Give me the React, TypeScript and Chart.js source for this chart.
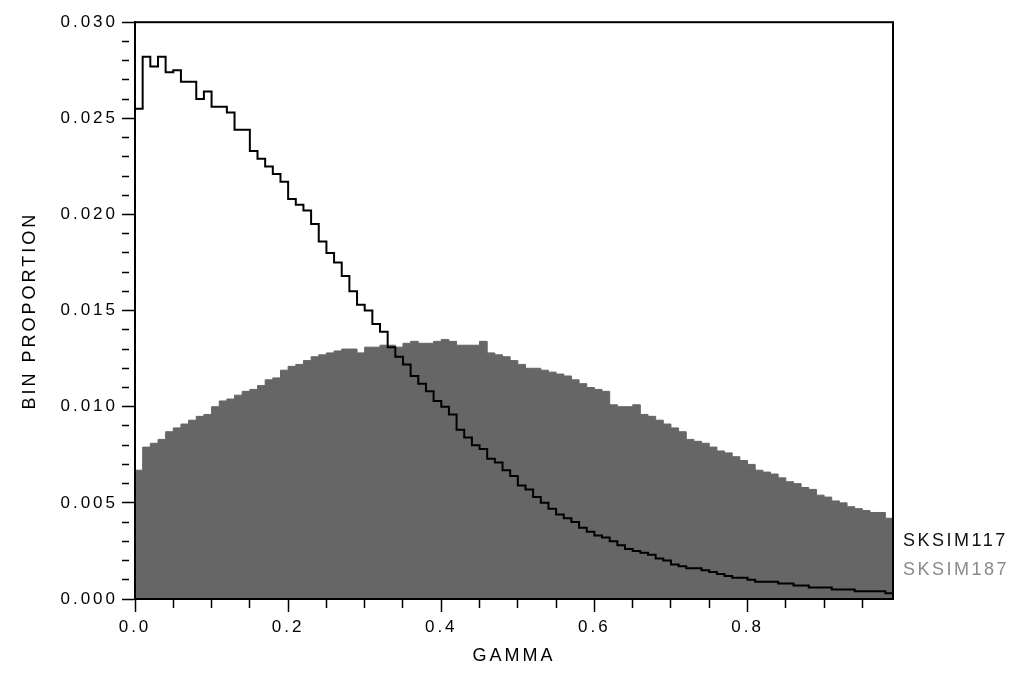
import React, { useEffect, useRef } from "react";
import { Chart, registerables } from "chart.js";

Chart.register(...registerables);

// ---------------- data ----------------
const BIN_WIDTH = 0.01;
const X_MIN = 0;
const X_MAX = 0.99;
const Y_MIN = 0;
const Y_MAX = 0.03;
const X_TITLE = "GAMMA";
const Y_TITLE = "BIN PROPORTION";
const SERIES_NAMES = ["SKSIM117", "SKSIM187"];

const SKSIM117 = [
  0.0255, 0.0282, 0.0277, 0.0282, 0.0274, 0.0275, 0.0269, 0.0269, 0.026, 0.0264,
  0.0256, 0.0256, 0.0253, 0.0244, 0.0244, 0.0233, 0.0229, 0.0225, 0.0221, 0.0217,
  0.0208, 0.0205, 0.0202, 0.0195, 0.0186, 0.018, 0.0175, 0.0168, 0.016, 0.0153,
  0.015, 0.0143, 0.0139, 0.0131, 0.0126, 0.0122, 0.0116, 0.0112, 0.0108, 0.0103,
  0.01, 0.0096, 0.0088, 0.0084, 0.008, 0.0078, 0.0073, 0.0071, 0.0067, 0.0064,
  0.0059, 0.0057, 0.0053, 0.005, 0.0047, 0.0044, 0.0042, 0.004, 0.0037, 0.0035,
  0.0033, 0.0032, 0.003, 0.0028, 0.0026, 0.0025, 0.0024, 0.0023, 0.0021, 0.002,
  0.0018, 0.0017, 0.0016, 0.0016, 0.0015, 0.0014, 0.0013, 0.0012, 0.0011, 0.0011,
  0.001, 0.0009, 0.0009, 0.0009, 0.0008, 0.0008, 0.0007, 0.0007, 0.0006, 0.0006,
  0.0006, 0.0005, 0.0005, 0.0005, 0.0004, 0.0004, 0.0004, 0.0004, 0.0003,
];

const SKSIM187 = [
  0.0067, 0.0079, 0.0081, 0.0083, 0.0087, 0.0089, 0.0091, 0.0093, 0.0095, 0.0096,
  0.01, 0.0103, 0.0104, 0.0106, 0.0108, 0.0109, 0.0111, 0.0114, 0.0115, 0.0119,
  0.0121, 0.0122, 0.0124, 0.0126, 0.0127, 0.0128, 0.0129, 0.013, 0.013, 0.0128,
  0.0131, 0.0131, 0.0132, 0.0132, 0.0131, 0.0133, 0.0134, 0.0133, 0.0133, 0.0134,
  0.0135, 0.0134, 0.0132, 0.0132, 0.0132, 0.0134, 0.0128, 0.0127, 0.0126, 0.0124,
  0.0122, 0.012, 0.012, 0.0119, 0.0118, 0.0117, 0.0116, 0.0114, 0.0112, 0.011,
  0.0109, 0.0108, 0.0101, 0.01, 0.01, 0.0101, 0.0096, 0.0095, 0.0093, 0.0091,
  0.0089, 0.0087, 0.0083, 0.0082, 0.0081, 0.0079, 0.0077, 0.0076, 0.0074, 0.0072,
  0.007, 0.0067, 0.0066, 0.0065, 0.0063, 0.0061, 0.006, 0.0058, 0.0057, 0.0054,
  0.0053, 0.0051, 0.005, 0.0048, 0.0047, 0.0046, 0.0045, 0.0045, 0.0042,
];

// ---------------- helpers ----------------
const FONT = "'Liberation Sans', Arial, Helvetica, sans-serif";

function toSteps(values: number[]) {
  const pts = values.map((v, i) => ({ x: +(i * BIN_WIDTH).toFixed(4), y: v }));
  pts.push({ x: +(values.length * BIN_WIDTH).toFixed(4), y: values[values.length - 1] });
  return pts;
}

const isMajorY = (v: number) => Math.round(v * 1000) % 5 === 0;
const isMajorX = (v: number) => Math.round(v * 100) % 20 === 0;

const framePlugin = {
  id: "frame",
  beforeDraw(chart: any) {
    (chart.ctx as any).letterSpacing = "3px";
  },
  afterDatasetsDraw(chart: any) {
    const { ctx, chartArea: a } = chart;
    ctx.save();
    ctx.strokeStyle = "#000";
    ctx.lineWidth = 2;
    ctx.strokeRect(a.left, a.top, a.right - a.left, a.bottom - a.top);
    ctx.restore();
  },
  afterDraw(chart: any) {
    const { ctx, chartArea: a } = chart;
    ctx.save();
    (ctx as any).letterSpacing = "2.5px";
    ctx.font = `18px ${FONT}`;
    ctx.textAlign = "left";
    ctx.textBaseline = "middle";
    const offsets = [58, 29];
    chart.data.datasets.forEach((ds: any, i: number) => {
      ctx.fillStyle = ds.legendColor;
      ctx.fillText(ds.label, a.right + 10, a.bottom - offsets[i]);
    });
    ctx.restore();
  },
};

export default function App() {
  const ref = useRef<HTMLCanvasElement | null>(null);

  useEffect(() => {
    if (!ref.current) return;
    const chart = new Chart(ref.current, {
      type: "line",
      data: {
        datasets: [
          {
            label: SERIES_NAMES[0],
            data: toSteps(SKSIM117),
            stepped: "before",
            borderColor: "#000",
            borderWidth: 2,
            pointRadius: 0,
            fill: false,
            order: 0,
            legendColor: "#111",
          } as any,
          {
            label: SERIES_NAMES[1],
            data: toSteps(SKSIM187),
            stepped: "before",
            borderColor: "#666666",
            backgroundColor: "#666666",
            borderWidth: 1,
            pointRadius: 0,
            fill: "origin",
            order: 1,
            legendColor: "#8a8a8a",
          } as any,
        ],
      },
      options: {
        animation: false,
        responsive: false,
        devicePixelRatio: 1,
        parsing: true,
        layout: { padding: { top: 12, right: 115, left: 0, bottom: 0 } },
        plugins: {
          legend: { display: false },
          tooltip: { enabled: false },
        },
        scales: {
          x: {
            type: "linear",
            min: X_MIN,
            max: X_MAX,
            afterFit: (s: any) => {
              s.height = 68;
            },
            border: { display: true, color: "#000", width: 2 },
            grid: {
              drawOnChartArea: false,
              drawTicks: true,
              tickLength: 13,
              tickColor: "#000",
              tickWidth: 1.5,
              tickBorderDash: (c: any) => (isMajorX(c.tick.value) ? [] : [8, 100]),
            },
            ticks: {
              stepSize: 0.05,
              includeBounds: false,
              autoSkip: false,
              maxRotation: 0,
              maxTicksLimit: 100,
              padding: 5,
              color: "#000",
              font: { family: FONT, size: 17 },
              callback: (v: any) => (isMajorX(Number(v)) ? Number(v).toFixed(1) : ""),
            },
            title: {
              display: true,
              text: X_TITLE,
              color: "#000",
              font: { family: FONT, size: 18 },
              padding: { top: 0, bottom: 0 },
            },
          },
          y: {
            type: "linear",
            min: Y_MIN,
            max: Y_MAX,
            afterFit: (s: any) => {
              s.width = 127;
            },
            border: { display: true, color: "#000", width: 2 },
            grid: {
              drawOnChartArea: false,
              drawTicks: true,
              tickLength: 13,
              tickColor: "#000",
              tickWidth: 1.5,
              tickBorderDash: (c: any) => (isMajorY(c.tick.value) ? [] : [7, 100]),
            },
            ticks: {
              stepSize: 0.001,
              autoSkip: false,
              maxTicksLimit: 100,
              padding: 4,
              color: "#000",
              font: { family: FONT, size: 17 },
              callback: (v: any) => (isMajorY(Number(v)) ? Number(v).toFixed(3) : ""),
            },
            title: {
              display: true,
              text: Y_TITLE,
              color: "#000",
              font: { family: FONT, size: 18 },
              padding: { top: 11, bottom: 0 },
            },
          },
        },
      } as any,
      plugins: [framePlugin as any],
    });
    return () => chart.destroy();
  }, []);

  return (
    <div style={{ width: 1000, height: 659 }}>
      <canvas ref={ref} width={1000} height={659} style={{ display: "block" }} />
    </div>
  );
}
